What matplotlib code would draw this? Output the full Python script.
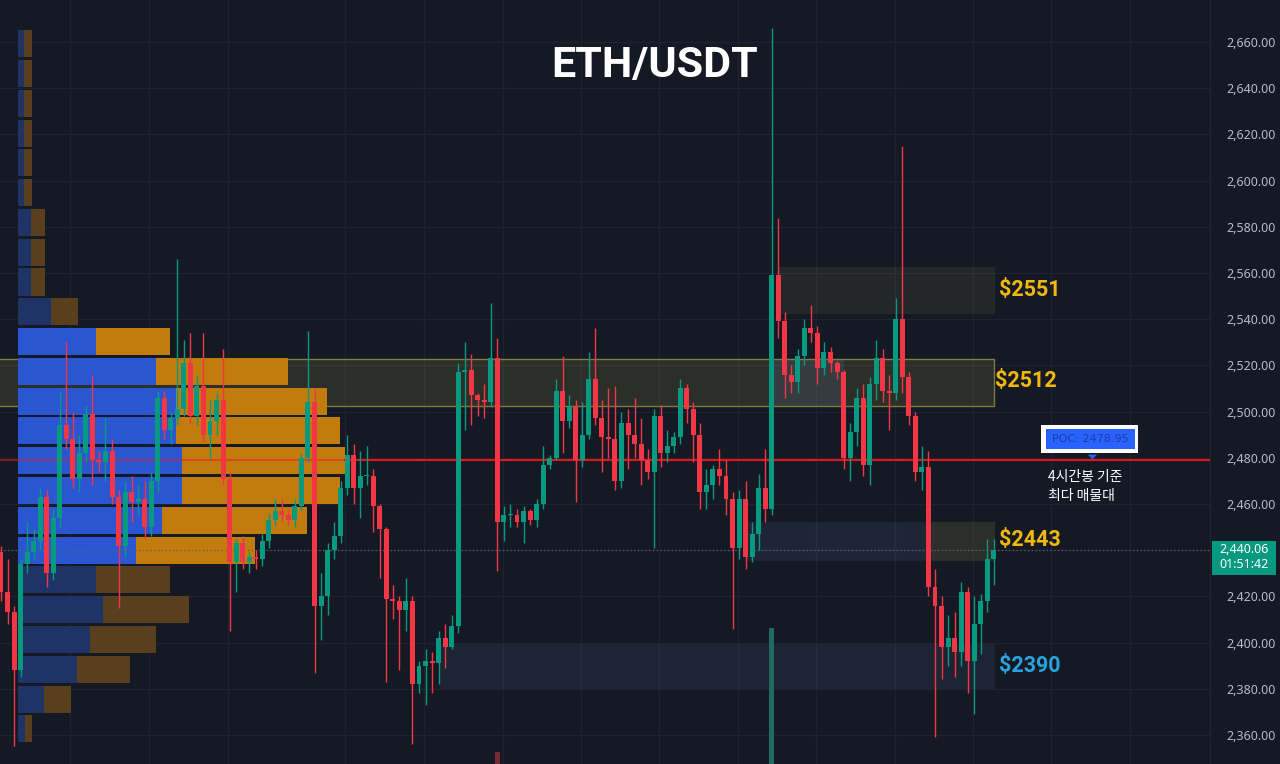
import numpy as np
import matplotlib.pyplot as plt
import matplotlib.transforms as mtransforms
from matplotlib.patches import Rectangle, Polygon

# ---- data (4h candles) ----
first_open = 2439.0
closes = [2422, 2413, 2388, 2434, 2439, 2444, 2463, 2430, 2454, 2494,
          2488, 2471, 2482, 2499, 2479, 2478, 2483, 2463, 2442, 2465,
          2461, 2462, 2450, 2470, 2506, 2492, 2497, 2501, 2521, 2498,
          2511, 2490, 2496, 2505, 2471, 2435, 2443, 2435, 2437, 2436,
          2444, 2453, 2457, 2455, 2453, 2459, 2480, 2504, 2416, 2420,
          2440, 2446, 2467, 2481, 2467, 2472, 2472, 2459, 2449, 2419,
          2418, 2414, 2418, 2382, 2390, 2392, 2391, 2402, 2398, 2407,
          2517, 2518, 2507, 2505, 2504, 2523, 2452, 2455, 2455, 2452,
          2457, 2453, 2460, 2477, 2480, 2509, 2496, 2502, 2479, 2490,
          2514, 2497, 2489, 2488, 2470, 2495, 2490, 2486, 2479, 2474,
          2498, 2482, 2485, 2489, 2510, 2501, 2490, 2465, 2468, 2475,
          2472, 2462, 2441, 2462, 2437, 2447, 2467, 2458, 2559, 2539,
          2516, 2513, 2524, 2536, 2534, 2519, 2526, 2521, 2517, 2480,
          2491, 2506, 2477, 2512, 2523, 2509, 2508, 2540, 2515, 2498,
          2474, 2476, 2424, 2416, 2398, 2402, 2396, 2422, 2392, 2408,
          2418, 2436, 2440.06]
highs = [2442, 2436, 2416, 2436, 2452, 2449, 2467, 2466, 2458, 2509,
         2530, 2500, 2490, 2503, 2516, 2483, 2497, 2488, 2466, 2470,
         2472, 2468, 2470, 2474, 2509, 2509, 2500, 2566, 2531, 2534,
         2516, 2534, 2505, 2508, 2527, 2474, 2445, 2446, 2439, 2440,
         2447, 2456, 2462, 2462, 2458, 2462, 2482, 2535, 2510, 2430,
         2443, 2452, 2470, 2490, 2486, 2483, 2485, 2475, 2460, 2450,
         2425, 2420, 2428, 2420, 2392, 2397, 2396, 2405, 2408, 2412,
         2521, 2530, 2525, 2508, 2512, 2547, 2532, 2459, 2460, 2458,
         2459, 2458, 2462, 2485, 2481, 2514, 2524, 2507, 2505, 2504,
         2526, 2536, 2505, 2510, 2511, 2500, 2501, 2506, 2497, 2484,
         2501, 2503, 2492, 2491, 2514, 2512, 2504, 2495, 2475, 2477,
         2484, 2479, 2465, 2466, 2470, 2452, 2473, 2484, 2666, 2584,
         2543, 2520, 2527, 2540, 2546, 2537, 2530, 2528, 2522, 2518,
         2495, 2510, 2512, 2515, 2531, 2527, 2516, 2549, 2615, 2517,
         2500, 2485, 2483, 2432, 2420, 2412, 2413, 2426, 2424, 2420,
         2421, 2445, 2445]
lows = [2418, 2408, 2355, 2385, 2430, 2436, 2440, 2424, 2427, 2450,
        2484, 2467, 2465, 2478, 2468, 2474, 2470, 2460, 2415, 2437,
        2452, 2455, 2445, 2446, 2465, 2488, 2486, 2494, 2498, 2495,
        2494, 2487, 2480, 2490, 2468, 2405, 2422, 2432, 2430, 2432,
        2433, 2441, 2451, 2452, 2451, 2450, 2457, 2478, 2387, 2401,
        2412, 2436, 2443, 2464, 2460, 2454, 2468, 2448, 2428, 2383,
        2410, 2388, 2405, 2356, 2378, 2373, 2378, 2382, 2389, 2397,
        2404, 2492, 2494, 2498, 2497, 2502, 2431, 2444, 2450, 2450,
        2443, 2451, 2450, 2458, 2475, 2479, 2482, 2493, 2461, 2476,
        2488, 2494, 2474, 2480, 2466, 2467, 2475, 2480, 2468, 2471,
        2441, 2476, 2478, 2482, 2486, 2495, 2478, 2458, 2458, 2462,
        2468, 2455, 2406, 2436, 2432, 2435, 2440, 2452, 2455, 2532,
        2506, 2508, 2508, 2520, 2530, 2512, 2516, 2517, 2514, 2475,
        2470, 2485, 2472, 2468, 2505, 2504, 2492, 2505, 2508, 2494,
        2470, 2466, 2420, 2359, 2384, 2390, 2385, 2390, 2378, 2369,
        2395, 2413, 2425]
opens = [first_open] + closes[:-1]

# volume profile (price level centres, up / down volume)
profile_levels = [2362.6, 2375.5, 2388.4, 2401.3, 2414.2, 2427.1, 2440.0, 2452.9,
                  2465.8, 2478.7, 2491.6, 2504.5, 2517.4, 2530.3, 2543.2, 2556.1,
                  2569.0, 2581.9, 2594.8, 2607.7, 2620.6, 2633.5, 2646.4, 2659.3]
profile_up = [7, 26, 59, 72, 85, 78, 118, 144, 164, 164, 158, 158, 138, 78, 33, 13,
              13, 13, 6, 6, 6, 6, 6, 6]
profile_down = [7, 27, 53, 66, 86, 74, 119, 145, 158, 163, 164, 151, 132, 74, 27, 14,
                14, 14, 8, 8, 8, 8, 8, 8]
value_area = (2440.0, 2530.3)
poc = 2478.95
last_price = 2440.06

# only two volume bars reach into the visible price range
vol_candles = [76, 118]
vol_tops = [2352.6, 2406.3]

BG = '#151924'
UP = '#089981'
DOWN = '#f23645'
GOLD = '#f0b90b'

plt.rcParams['font.family'] = ['Noto Sans', 'DejaVu Sans']
BOLD_FONT = ['Roboto', 'DejaVu Sans']

fig = plt.figure(figsize=(12.8, 7.64), dpi=100)
fig.patch.set_facecolor(BG)
ax = fig.add_axes([0, 0, 1210 / 1280, 1])
ax.set_facecolor(BG)
ax.set_xlim(-0.15, 185.1)
ax.set_ylim(2347.4, 2678.2)

# grid
yticks = list(range(2360, 2661, 20))
for yv in yticks:
    ax.axhline(yv, color='#1e2330', lw=1, zorder=0)
for xv in [10.6, 22.7, 34.7, 52.7, 64.8, 76.8, 88.8, 100.8, 112.8, 124.8,
           136.8, 148.8, 160.8, 172.8]:
    ax.axvline(xv, color='#1e2330', lw=1, zorder=0)

# zones
olive = '#a39c45'
bluez = '#5a7aa6'
ax.add_patch(Rectangle((-1, 2502.4), 153.0, 20.4, facecolor=olive, alpha=0.17, zorder=1))
ax.add_patch(Rectangle((-1, 2502.4), 153.0, 20.4, facecolor='none', edgecolor=olive,
                       alpha=0.75, lw=1, zorder=1))
ax.add_patch(Rectangle((118.2, 2502.4), 10.8, 20.4, facecolor=bluez, alpha=0.18, zorder=1))
ax.add_patch(Rectangle((119.0, 2542.7), 33.0, 19.9, facecolor=olive, alpha=0.11,
                       edgecolor='#6b6838', lw=1, zorder=1))
ax.add_patch(Rectangle((113.9, 2435.8), 28.7, 16.4, facecolor=bluez, alpha=0.14,
                       edgecolor='#34414f', lw=1, zorder=1))
ax.add_patch(Rectangle((142.6, 2435.8), 9.4, 16.4, facecolor=olive, alpha=0.16,
                       edgecolor='#6a6636', lw=1, zorder=1))
ax.add_patch(Rectangle((67.2, 2380.4), 84.8, 19.0, facecolor=bluez, alpha=0.12,
                       edgecolor='#3a4858', lw=1, zorder=1))

# volume profile
levels = np.array(profile_levels)
up_v = np.array(profile_up, dtype=float)
dn_v = np.array(profile_down, dtype=float)
scale = 50.0 / (up_v + dn_v).max()
in_va = (levels >= value_area[0] - 1) & (levels <= value_area[1] + 1)
c_up = np.where(in_va, '#2a56d2', '#1e3366')
c_dn = np.where(in_va, '#c27c0e', '#5a3f1e')
left0 = 2.6
ax.barh(levels, up_v * scale, left=left0, height=11.7, color=c_up, zorder=2)
ax.barh(levels, dn_v * scale, left=left0 + up_v * scale, height=11.7, color=c_dn, zorder=2)

# POC line
prof_end = left0 + (up_v[9] + dn_v[9]) * scale
ax.plot([-1, prof_end], [poc, poc], color='#f01820', lw=1.5, alpha=0.5, zorder=3)
ax.plot([prof_end, 190], [poc, poc], color='#e8141c', lw=1.5, zorder=3)

# last price dotted line
ax.axhline(last_price, color='#5d616d', lw=0.9, ls=(0, (1, 2)), zorder=3)

# volume bars
ax.bar(vol_candles, [t - 2300 for t in vol_tops], bottom=2300, width=0.76,
       color=['#7a2a36', '#1f6b60'], zorder=3)

# candles
x = np.arange(len(closes))
o = np.array(opens, dtype=float)
c = np.array(closes, dtype=float)
cols = np.where(c >= o, UP, DOWN)
ax.vlines(x, lows, highs, colors=cols, lw=1, zorder=5)
body_h = np.maximum(np.abs(c - o), 0.5)
ax.bar(x, body_h, bottom=np.minimum(o, c), width=0.76, color=cols, zorder=6)

# zone labels
lab_kw = dict(fontsize=15.5, fontweight='bold', family=BOLD_FONT,
              va='center', ha='left', zorder=8)
ax.text(152.8, 2552.6, '$2551', color=GOLD, **lab_kw)
ax.text(152.2, 2513.2, '$2512', color=GOLD, **lab_kw)
ax.text(152.8, 2444.2, '$2443', color=GOLD, **lab_kw)
ax.text(152.8, 2390.0, '$2390', color='#29a3df', **lab_kw)

# POC label box
ax.add_patch(Rectangle((159.3, 2482.1), 14.8, 12.1, facecolor='white', zorder=8))
ax.add_patch(Rectangle((160.0, 2483.8), 13.6, 8.7, facecolor='#2962ff', zorder=9))
ax.text(166.8, 2488.2, 'POC: 2478.95', color='#1b3d9c', fontsize=8,
        family='DejaVu Sans', ha='center', va='center', zorder=10)
ax.add_patch(Polygon([[166.4, 2481.4], [167.8, 2481.4], [167.1, 2479.3]],
                     closed=True, facecolor='#2962ff', zorder=9))
ax.text(160.3, 2474.6, '4시간봉 기준\n최다 매물대', color='white', fontsize=10,
        family=['Noto Sans CJK KR', 'DejaVu Sans'], ha='left', va='top',
        linespacing=1.45, zorder=10)

# right price axis (2,440.00 is hidden behind the last-price tag)
ax.yaxis.tick_right()
ax.set_yticks(yticks)
ax.set_yticklabels(['' if v == 2440 else f'{v:,.2f}' for v in yticks])
ax.tick_params(axis='y', length=0, pad=12, labelcolor='#b8bbc4', labelsize=9)
ax.set_xticks([])
for s in ['top', 'left', 'bottom']:
    ax.spines[s].set_visible(False)
ax.spines['right'].set_color('#22262f')

# last price tag
trans = mtransforms.blended_transform_factory(ax.transAxes, ax.transData)
ax.add_patch(Rectangle((1.0017, 2429.2), 0.0529, 14.8, transform=trans,
                       facecolor=UP, clip_on=False, zorder=12))
ax.text(1.0281, 2440.06, f'{last_price:,.2f}', transform=trans, color='white',
        fontsize=9, ha='center', va='center', clip_on=False, zorder=13)
ax.text(1.0281, 2433.6, '01:51:42', transform=trans, color='white',
        fontsize=9, ha='center', va='center', clip_on=False, zorder=13)

# title
fig.text(655 / 1280, 1 - 66 / 764, 'ETH/USDT', color='white', fontsize=31,
         fontweight='bold', family=BOLD_FONT, ha='center', va='center')

fig.savefig('out.png', dpi=100, facecolor=BG)
